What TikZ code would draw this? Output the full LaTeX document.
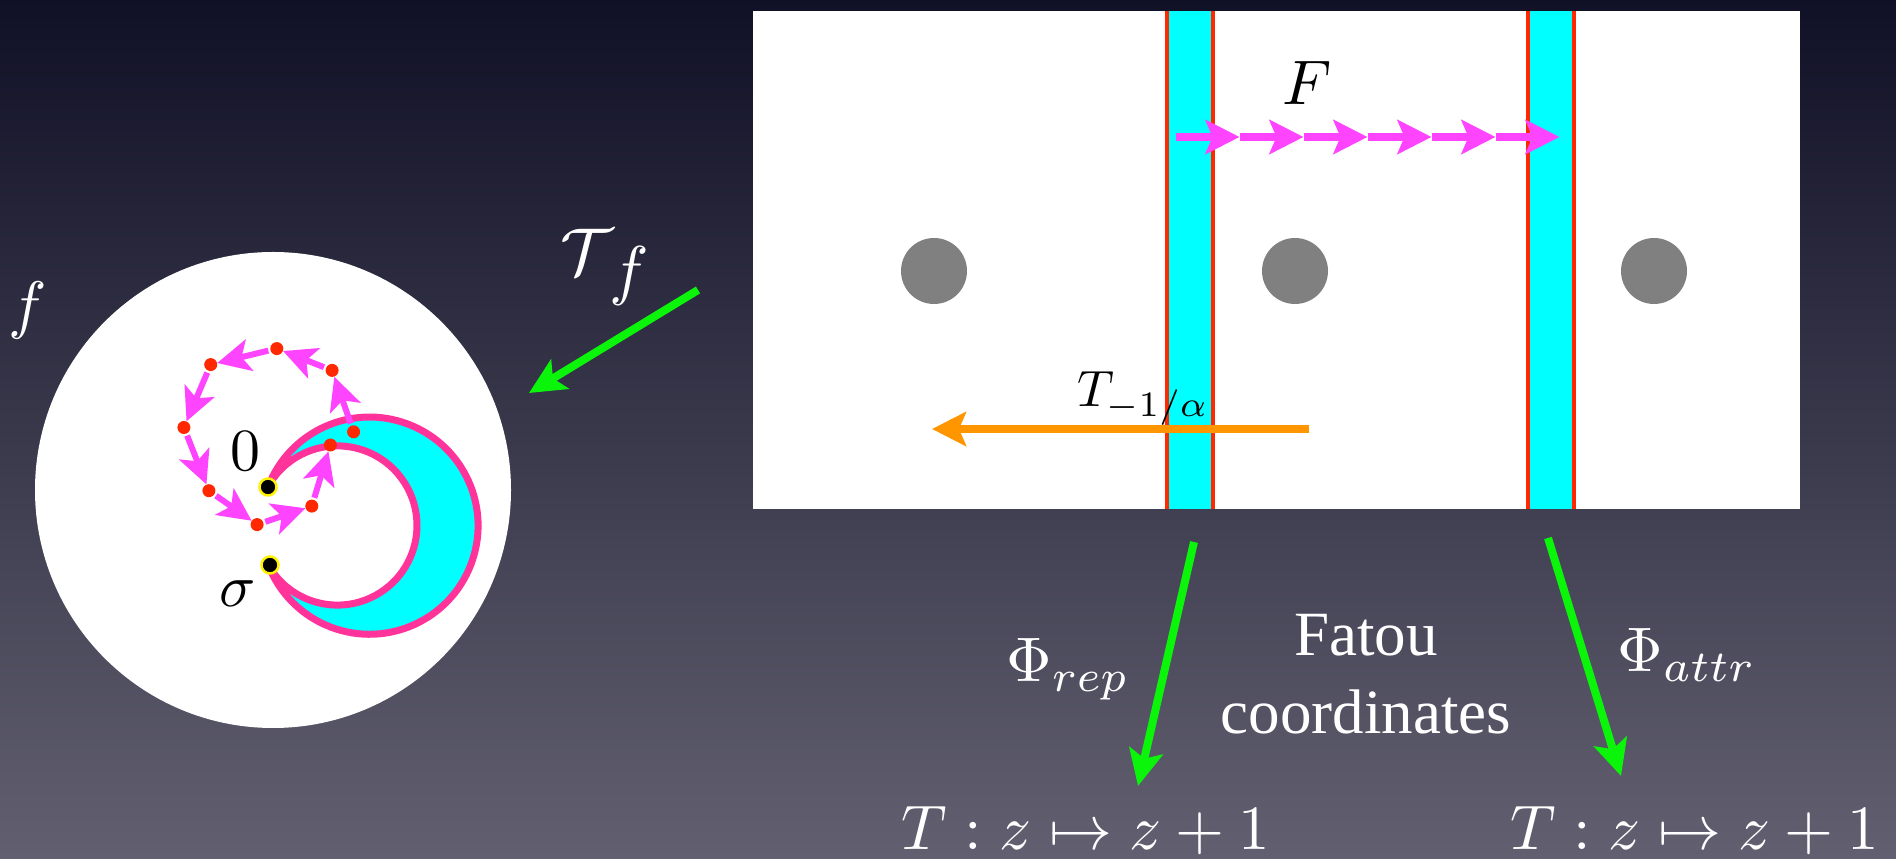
\documentclass[tikz,border=0pt]{standalone}
\usepackage[no-math]{fontspec}
\setmainfont{Liberation Serif}
\usepackage{xcolor}
\definecolor{cBgTop}{RGB}{16,16,38}
\definecolor{cBgBot}{RGB}{98,96,112}
\definecolor{cGreen}{RGB}{10,245,10}
\definecolor{cCyan}{RGB}{0,255,255}
\definecolor{cRed}{RGB}{255,40,0}
\definecolor{cPink}{RGB}{255,51,153}
\definecolor{cMagenta}{RGB}{255,68,255}
\definecolor{cOrange}{RGB}{255,150,0}
\definecolor{cHole}{RGB}{128,128,128}
\usepackage{tikz}
\usetikzlibrary{arrows.meta}
\tikzset{
  node-math/.style={inner sep=0pt,scale=6.3},
  node-white/.style={node-math,text=white},
  node-orbit/.style={circle,fill=cRed,inner sep=0pt,minimum size=13pt},
  node-fixed/.style={circle,fill=black,draw=yellow,line width=2.5pt,
    inner sep=0pt,minimum size=17pt},
  arrow-green/.style={-{Stealth[length=36pt,width=34pt,inset=8pt]},
    line width=8pt,draw=cGreen},
  arrow-orbit/.style={-{Stealth[length=33pt,width=32pt,inset=8pt]},
    line width=6pt,draw=cMagenta,shorten <=2pt,shorten >=0pt},
  arrow-shift/.style={-{Stealth[length=34pt,width=34pt,inset=7pt]},
    line width=8pt,draw=cMagenta},
  arrow-back/.style={-{Stealth[length=34pt,width=34pt,inset=7pt]},
    line width=8pt,draw=cOrange},
  strip-edge/.style={draw=cRed,line width=4pt},
}

\begin{document}
\begin{tikzpicture}[x=1pt,y=1pt]
  \shade[top color=cBgTop,bottom color=cBgBot] (0,0) rectangle (1896,859);
  \useasboundingbox (0,0) rectangle (1896,859);

  % plan dynamique de f
  \fill[white] (273,369) circle (238pt);
  \filldraw[fill=cCyan,draw=cPink,line width=7pt,line join=round]
    (268,372) arc[start angle=159.15,end angle=-158.8,radius=108.6pt]
    arc[start angle=-150.3,end angle=151,radius=79.6pt] -- cycle;
  \node[node-orbit] (d0) at (353.6,427.2) {};
  \node[node-orbit] (d1) at (332.1,488.6) {};
  \node[node-orbit] (d2) at (276.8,510.4) {};
  \node[node-orbit] (d3) at (210.7,494.4) {};
  \node[node-orbit] (d4) at (183.9,431.5) {};
  \node[node-orbit] (d5) at (208.9,368.3) {};
  \node[node-orbit] (d6) at (257.1,334.4) {};
  \node[node-orbit] (d7) at (311.8,352.9) {};
  \node[node-orbit] (d8) at (330.4,414) {};
  \draw[arrow-orbit] (d0) -- (d1);
  \draw[arrow-orbit] (d1) -- (d2);
  \draw[arrow-orbit] (d2) -- (d3);
  \draw[arrow-orbit] (d3) -- (d4);
  \draw[arrow-orbit] (d4) -- (d5);
  \draw[arrow-orbit] (d5) -- (d6);
  \draw[arrow-orbit] (d6) -- (d7);
  \draw[arrow-orbit] (d7) -- (d8);
  \node[node-fixed] (zero) at (268,372) {};
  \node[node-fixed] (sigma) at (270,294) {};
  \node[node-math,scale=0.95,anchor=base] (zero-lbl) at (245,388) {$0$};
  \node[node-math,scale=0.95,anchor=base] (sigma-lbl) at (238,252) {$\sigma$};
  \node[node-white,scale=1.02,anchor=base] (f-lbl) at (28,532) {$f$};

  % cylindre de Fatou
  \fill[white] (753,350) rectangle (1800,848);
  \fill[cCyan] (1167,350) rectangle (1213,848);
  \fill[cCyan] (1528,350) rectangle (1574,848);
  \draw[strip-edge] (1167,350) -- (1167,848) (1213,350) -- (1213,848);
  \draw[strip-edge] (1528,350) -- (1528,848) (1574,350) -- (1574,848);
  \fill[cHole] (934,588) circle (33pt);
  \fill[cHole] (1295,588) circle (33pt);
  \fill[cHole] (1654,588) circle (33pt);

  \coordinate (s0) at (1175.5,722);
  \coordinate (s1) at (1239.5,722);
  \coordinate (s2) at (1303.5,722);
  \coordinate (s3) at (1367.5,722);
  \coordinate (s4) at (1431.5,722);
  \coordinate (s5) at (1495.5,722);
  \coordinate (s6) at (1559.5,722);
  \draw[arrow-shift] (s0) -- (s1);
  \draw[arrow-shift] (s1) -- (s2);
  \draw[arrow-shift] (s2) -- (s3);
  \draw[arrow-shift] (s3) -- (s4);
  \draw[arrow-shift] (s4) -- (s5);
  \draw[arrow-shift] (s5) -- (s6);
  \node[node-math,anchor=base] (F-lbl) at (1307,754) {$F$};

  \coordinate (back-tail) at (1309,430);
  \coordinate (back-head) at (932,430);
  \draw[arrow-back] (back-tail) -- (back-head);
  \node[node-math,scale=0.81,anchor=base west] (back-lbl) at (1076,452)
    {$T_{-1/\alpha}$};

  % fleches vertes
  \coordinate (tf-tail) at (698,569);
  \coordinate (tf-head) at (529,466);
  \draw[arrow-green] (tf-tail) -- (tf-head);
  \node[node-white,scale=1.05,anchor=base west] (tf-lbl) at (559,584)
    {$\mathcal{T}\mkern-1mu\raisebox{-.26em}{$f$}$};

  \coordinate (rep-tail) at (1194,317);
  \coordinate (rep-head) at (1138,73);
  \draw[arrow-green] (rep-tail) -- (rep-head);
  \node[node-white,anchor=base] (rep-lbl) at (1068,177) {$\Phi_{rep}$};

  \coordinate (attr-tail) at (1548,321);
  \coordinate (attr-head) at (1621,83);
  \draw[arrow-green] (attr-tail) -- (attr-head);
  \node[node-white,anchor=base] (attr-lbl) at (1687,187) {$\Phi_{attr}$};

  \node[text=white,inner sep=0pt,align=center,
    font=\rmfamily\fontsize{63}{78}\selectfont] (fatou) at (1366,185)
    {Fatou\\coordinates};
  \node[node-white,anchor=base] (T-rep) at (1086,9) {$T: z\mapsto z+1$};
  \node[node-white,anchor=base] (T-attr) at (1695,9) {$T: z\mapsto z+1$};
\end{tikzpicture}
\end{document}
